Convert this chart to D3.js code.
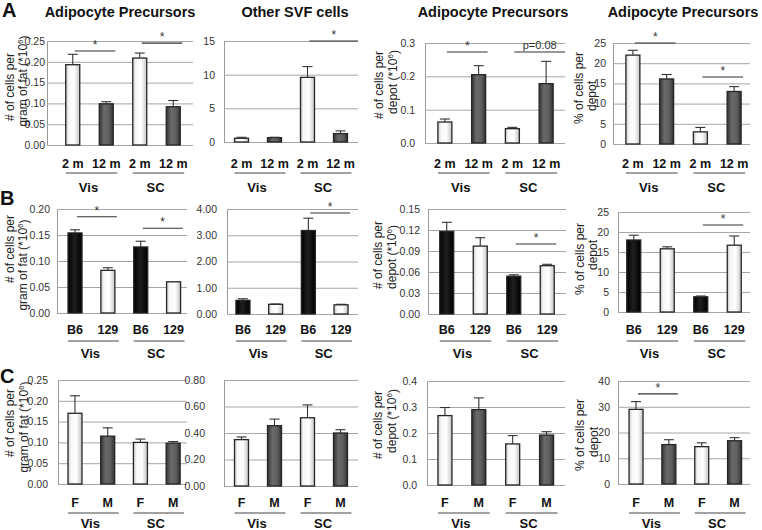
<!DOCTYPE html>
<html><head><meta charset="utf-8">
<script src="https://cdn.jsdelivr.net/npm/d3@7"></script>
<style>body{margin:0;background:#fff;} svg{display:block;font-family:"Liberation Sans",Arial,sans-serif;}</style>
</head><body><svg id="chart" width="762" height="530"></svg>
<script>
// ---------- DATA ----------
const catsA = ["2 m", "12 m", "2 m", "12 m"];
const catsB = ["B6", "129", "B6", "129"];
const catsC = ["F", "M", "F", "M"];
const groupLabels = ["Vis", "SC"];
const kindsA = ["light", "dark", "light", "dark"];
const kindsB = ["black", "light", "black", "light"];
const kindsC = ["light", "dark", "light", "dark"];

const a1Values = [0.193, 0.099, 0.209, 0.092];
const a1Errors = [0.025, 0.005, 0.012, 0.015];
const a2Values = [0.55, 0.65, 9.6, 1.25];
const a2Errors = [0.15, 0.05, 1.6, 0.4];
const a3Values = [0.063, 0.205, 0.043, 0.178];
const a3Errors = [0.009, 0.027, 0.004, 0.067];
const a4Values = [22.0, 16.1, 3.0, 13.0];
const a4Errors = [1.2, 1.1, 1.1, 1.2];

const b1Values = [0.154, 0.082, 0.127, 0.060];
const b1Errors = [0.006, 0.005, 0.011, 0.0];
const b2Values = [0.52, 0.37, 3.18, 0.35];
const b2Errors = [0.06, 0.01, 0.47, 0.02];
const b3Values = [0.118, 0.097, 0.054, 0.069];
const b3Errors = [0.013, 0.012, 0.002, 0.002];
const b4Values = [18.0, 15.8, 3.8, 16.7];
const b4Errors = [1.2, 0.5, 0.2, 2.3];

const c1Values = [0.170, 0.115, 0.100, 0.098];
const c1Errors = [0.042, 0.020, 0.008, 0.004];
const c2Values = [0.35, 0.455, 0.515, 0.40];
const c2Errors = [0.02, 0.05, 0.097, 0.025];
const c3Values = [0.267, 0.290, 0.158, 0.192];
const c3Errors = [0.031, 0.045, 0.032, 0.013];
const c4Values = [29.0, 15.3, 14.5, 16.8];
const c4Errors = [3.0, 1.9, 1.5, 1.2];

const ticksA1 = [0, 0.05, 0.10, 0.15, 0.20, 0.25];
const ticksA2 = [0, 5, 10, 15];
const ticksA3 = [0, 0.1, 0.2, 0.3];
const ticksA4 = [0, 5, 10, 15, 20, 25];
const ticksB1 = [0, 0.05, 0.10, 0.15, 0.20];
const ticksB2 = [0, 1, 2, 3, 4];
const ticksB3 = [0, 0.03, 0.06, 0.09, 0.12, 0.15];
const ticksB4 = [0, 5, 10, 15, 20, 25];
const ticksC1 = [0, 0.05, 0.10, 0.15, 0.20, 0.25];
const ticksC2 = [0, 0.2, 0.4, 0.6, 0.8];
const ticksC3 = [0, 0.1, 0.2, 0.3, 0.4];
const ticksC4 = [0, 10, 20, 30, 40];

// significance annotations: bar index pairs, height in data units, label
const sigA1 = [{from: 0, to: 1, y: 0.226, label: "*"}, {from: 2, to: 3, y: 0.245, label: "*"}];
const sigA2 = [{from: 2, to: 3, y: 15, label: "*", toEnd: true}];
const sigA3 = [{from: 0, to: 1, y: 0.273, label: "*"}, {from: 2, to: 3, y: 0.273, label: "p=0.08", toEnd: true}];
const sigA4 = [{from: 0, to: 1, y: 25, label: "*"}, {from: 2, to: 3, y: 16.6, label: "*"}];
const sigB1 = [{from: 0, to: 1, y: 0.185, label: "*"}, {from: 2, to: 3, y: 0.163, label: "*"}];
const sigB2 = [{from: 2, to: 3, y: 3.85, label: "*"}];
const sigB3 = [{from: 2, to: 3, y: 0.10, label: "*"}];
const sigB4 = [{from: 2, to: 3, y: 21.75, label: "*"}];
const sigC4 = [{from: 0, to: 1, y: 35, label: "*"}];

const titles = ["Adipocyte Precursors", "Other SVF cells", "Adipocyte Precursors", "Adipocyte Precursors"];
const yTitleGram = ["# of cells per", "gram of fat (*10^6)"];
const yTitleDepotN = ["# of cells per", "depot  (*10^6)"];
const yTitlePct = ["% of cells per", "depot"];

// ---------- LAYOUT ----------
const rowLayout = {
  A: {catY: 168, lineY: 173, groupY: 192},
  B: {catY: 334, lineY: 341, groupY: 358},
  C: {catY: 507, lineY: 513, groupY: 528}
};

const panels = [
  {row: "A", values: a1Values, errors: a1Errors, ticks: ticksA1, fmt: ".2f", cats: catsA, kinds: kindsA, sig: sigA1,
   ax: 47, rx: 193, bx0: 56, bx1: 190, top: 41, bottom: 145, gap: 2, title: titles[0], tx: 120,
   ylab: yTitleGram, lx: [10, 23], ly: [87, 81]},
  {row: "A", values: a2Values, errors: a2Errors, ticks: ticksA2, fmt: "d", cats: catsA, kinds: kindsA, sig: sigA2,
   ax: 224, rx: 358, bx0: 225, bx1: 357, top: 41, bottom: 142, gap: 9, title: titles[1], tx: 295},
  {row: "A", values: a3Values, errors: a3Errors, ticks: ticksA3, fmt: ".1f", cats: catsA, kinds: kindsA, sig: sigA3,
   ax: 425, rx: 565, bx0: 428, bx1: 563, top: 43, bottom: 143, gap: 10, title: titles[2], tx: 493,
   ylab: yTitleDepotN, lx: [379, 393], ly: [85, 82]},
  {row: "A", values: a4Values, errors: a4Errors, ticks: ticksA4, fmt: "d", cats: catsA, kinds: kindsA, sig: sigA4,
   ax: 613, rx: 750, bx0: 616, bx1: 751, top: 43, bottom: 144, gap: 7, title: titles[3], tx: 683,
   ylab: yTitlePct, lx: [579, 592], ly: [88, 96]},

  {row: "B", values: b1Values, errors: b1Errors, ticks: ticksB1, fmt: ".2f", cats: catsB, kinds: kindsB, sig: sigB1,
   ax: 57, rx: 187, bx0: 58.6, bx1: 190, top: 209, bottom: 313, gap: 7,
   ylab: yTitleGram, lx: [10, 23], ly: [249, 265]},
  {row: "B", values: b2Values, errors: b2Errors, ticks: ticksB2, fmt: ".2f", cats: catsB, kinds: kindsB, sig: sigB2,
   ax: 227, rx: 358, bx0: 226.6, bx1: 357.4, top: 209, bottom: 314, gap: 10},
  {row: "B", values: b3Values, errors: b3Errors, ticks: ticksB3, fmt: ".2f", cats: catsB, kinds: kindsB, sig: sigB3,
   ax: 428, rx: 566, bx0: 430, bx1: 564, top: 209, bottom: 314, gap: 8,
   ylab: yTitleDepotN, lx: [378, 392], ly: [255, 257]},
  {row: "B", values: b4Values, errors: b4Errors, ticks: ticksB4, fmt: "d", cats: catsB, kinds: kindsB, sig: sigB4,
   ax: 618, rx: 750, bx0: 617, bx1: 751, top: 212, bottom: 312, gap: 9,
   ylab: yTitlePct, lx: [580, 593], ly: [259, 255]},

  {row: "C", values: c1Values, errors: c1Errors, ticks: ticksC1, fmt: ".2f", cats: catsC, kinds: kindsC, sig: [],
   ax: 58, rx: 187, bx0: 58.6, bx1: 189.5, top: 380, bottom: 484, gap: 10,
   ylab: yTitleGram, lx: [10, 24], ly: [423, 427]},
  {row: "C", values: c2Values, errors: c2Errors, ticks: ticksC2, fmt: ".2f", cats: catsC, kinds: kindsC, sig: [],
   ax: 224, rx: 358, bx0: 225, bx1: 357, top: 380, bottom: 486, gap: 19},
  {row: "C", values: c3Values, errors: c3Errors, ticks: ticksC3, fmt: ".1f", cats: catsC, kinds: kindsC, sig: [],
   ax: 427, rx: 565, bx0: 428, bx1: 563.5, top: 381, bottom: 485, gap: 10,
   ylab: yTitleDepotN, lx: [378, 392], ly: [425, 421]},
  {row: "C", values: c4Values, errors: c4Errors, ticks: ticksC4, fmt: "d", cats: catsC, kinds: kindsC, sig: sigC4,
   ax: 618, rx: 750, bx0: 619.6, bx1: 751, top: 381, bottom: 484, gap: 8,
   ylab: yTitlePct, lx: [580, 594], ly: [435, 442]}
];

const panelLetters = [{t: "A", x: 2, y: 17}, {t: "B", x: 0, y: 205}, {t: "C", x: 0, y: 383}];

// ---------- DRAW ----------
const svg = d3.select("#chart");
const defs = svg.append("defs");
function grad(id, stops) {
  const g = defs.append("linearGradient").attr("id", id).attr("x1", 0).attr("x2", 1).attr("y1", 0).attr("y2", 0);
  stops.forEach(s => g.append("stop").attr("offset", s[0]).attr("stop-color", s[1]));
}
grad("g-light", [[0, "#c9c9c9"], [0.22, "#f7f7f7"], [0.6, "#ffffff"], [1, "#c4c4c4"]]);
grad("g-dark", [[0, "#333"], [0.35, "#6a6a6a"], [0.7, "#5e5e5e"], [1, "#303030"]]);
grad("g-black", [[0, "#000"], [0.45, "#1f1f1f"], [1, "#000"]]);
const fills = {light: "url(#g-light)", dark: "url(#g-dark)", black: "url(#g-black)"};

function richText(sel, str) {
  const parts = str.split("^");
  sel.append("tspan").text(parts[0]);
  if (parts.length > 1) {
    sel.append("tspan").attr("font-size", "8px").attr("dy", "-0.55em").text(parts[1].charAt(0));
    sel.append("tspan").attr("dy", "0.45em").text(parts[1].slice(1));
  }
}

const BW = 14;

panels.forEach(p => {
  const g = svg.append("g");
  const rl = rowLayout[p.row];
  const y = d3.scaleLinear().domain([0, p.ticks[p.ticks.length - 1]]).range([p.bottom, p.top]);
  const x = d3.scaleBand().domain(d3.range(p.cats.length)).range([p.bx0, p.bx1]);
  const cx = i => x(i) + x.bandwidth() / 2;

  // axis + gridlines
  const axis = d3.axisLeft(y).tickValues(p.ticks).tickFormat(d3.format(p.fmt))
    .tickSize(-(p.rx - p.ax)).tickSizeOuter(0).tickPadding(p.gap);
  const ag = g.append("g").attr("transform", `translate(${p.ax},0)`).call(axis);
  ag.select(".domain").attr("stroke", "#9a9a9a");
  ag.selectAll(".tick line").attr("stroke", "#a6a6a6");
  ag.selectAll(".tick text").attr("fill", "#333").attr("font-size", "10.5px")
    .attr("font-family", "'Liberation Sans', Arial, sans-serif");

  // bars
  g.selectAll("rect.bar").data(p.values).join("rect").attr("class", "bar")
    .attr("x", (d, i) => cx(i) - BW / 2).attr("width", BW)
    .attr("y", d => y(d)).attr("height", d => y(0) - y(d))
    .attr("fill", (d, i) => fills[p.kinds[i]])
    .attr("stroke", "#262626").attr("stroke-width", 1.3);

  // error bars
  p.values.forEach((v, i) => {
    const e = p.errors[i];
    if (e <= 0) return;
    g.append("line").attr("x1", cx(i)).attr("x2", cx(i)).attr("y1", y(v)).attr("y2", y(v + e))
      .attr("stroke", "#333").attr("stroke-width", 1.1);
    g.append("line").attr("x1", cx(i) - 5).attr("x2", cx(i) + 5).attr("y1", y(v + e)).attr("y2", y(v + e))
      .attr("stroke", "#333").attr("stroke-width", 1.1);
  });

  // significance
  p.sig.forEach(s => {
    const x1 = cx(s.from) + 2;
    const x2 = s.toEnd ? p.rx : cx(s.to) + BW / 2 + 2;
    g.append("line").attr("x1", x1).attr("x2", x2).attr("y1", y(s.y)).attr("y2", y(s.y))
      .attr("stroke", "#333").attr("stroke-width", 1.1);
    const isStar = s.label === "*";
    g.append("text").attr("x", (x1 + x2) / 2).attr("y", y(s.y) - (isStar ? 2 : 3))
      .attr("text-anchor", "middle").attr("font-size", isStar ? "12px" : "11px").attr("fill", "#333")
      .text(s.label);
  });

  // category labels
  g.selectAll("text.cat").data(p.cats).join("text").attr("class", "cat")
    .attr("x", (d, i) => cx(i)).attr("y", rl.catY).attr("text-anchor", "middle")
    .attr("font-size", "12.5px").attr("font-weight", "bold").attr("fill", "#111").text(d => d);

  // group lines & labels
  groupLabels.forEach((lab, gi) => {
    const i0 = gi * 2, i1 = gi * 2 + 1;
    const x1 = cx(i0) - BW / 2, x2 = cx(i1) + BW / 2 + 4;
    g.append("line").attr("x1", x1).attr("x2", x2).attr("y1", rl.lineY).attr("y2", rl.lineY)
      .attr("stroke", "#444").attr("stroke-width", 1);
    g.append("text").attr("x", (x1 + x2) / 2 - 3).attr("y", rl.groupY).attr("text-anchor", "middle")
      .attr("font-size", "13px").attr("font-weight", "bold").attr("fill", "#111").text(lab);
  });

  // y-axis title
  if (p.ylab) {
    p.ylab.forEach((line, k) => {
      const t = g.append("text").attr("transform", `translate(${p.lx[k]},${p.ly[k]}) rotate(-90)`)
        .attr("text-anchor", "middle").attr("dy", "0.35em").attr("font-size", "12px").attr("fill", "#222");
      richText(t, line);
    });
  }

  // title
  if (p.title) {
    svg.append("text").attr("x", p.tx).attr("y", 17).attr("text-anchor", "middle")
      .attr("font-size", "14.5px").attr("font-weight", "bold").attr("fill", "#111").text(p.title);
  }
});

svg.selectAll("text.letter").data(panelLetters).join("text").attr("class", "letter")
  .attr("x", d => d.x).attr("y", d => d.y).attr("font-size", "20px").attr("font-weight", "bold")
  .attr("fill", "#111").text(d => d.t);
</script></body></html>
